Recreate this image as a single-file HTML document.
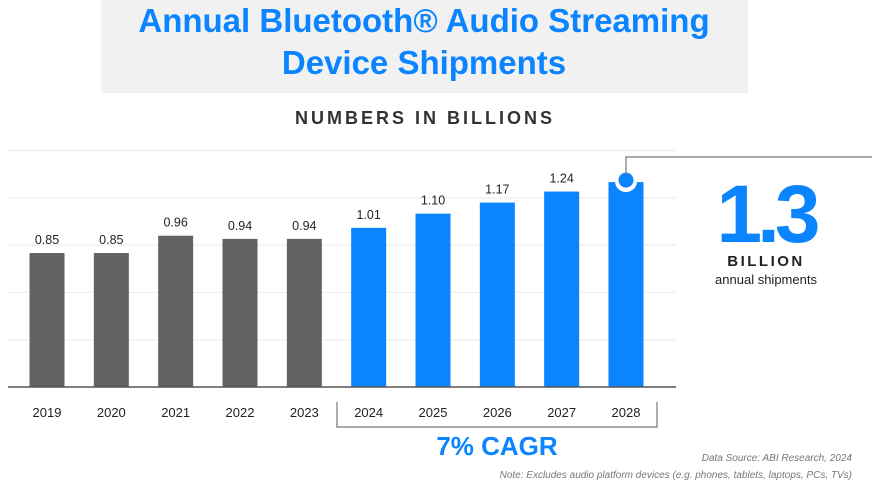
<!DOCTYPE html>
<html><head><meta charset="utf-8"><style>
body{margin:0;width:872px;height:497px;background:#fff;overflow:hidden;font-family:"Liberation Sans",sans-serif;}
</style></head><body>
<svg width="872" height="497" xmlns="http://www.w3.org/2000/svg">
<rect x="101" y="0" width="647" height="93" fill="#f1f1f1"/>
<text x="424" y="32" text-anchor="middle" font-size="33" font-weight="bold" fill="#0a84ff">Annual Bluetooth® Audio Streaming</text>
<text x="424" y="74" text-anchor="middle" font-size="33" font-weight="bold" fill="#0a84ff">Device Shipments</text>
<text x="425" y="124" text-anchor="middle" font-size="18" font-weight="bold" letter-spacing="3" fill="#333">NUMBERS IN BILLIONS</text>
<g id="grid"></g><g id="bars"></g><g id="labels"></g>
<line x1="8" y1="387" x2="676" y2="387" stroke="#555" stroke-width="1.5"/>
<path d="M337,402 V427 H657 V402" fill="none" stroke="#777" stroke-width="1.2"/>
<text x="497" y="455" text-anchor="middle" font-size="26" font-weight="bold" fill="#0a84ff">7% CAGR</text>
<text x="852" y="461" text-anchor="end" font-size="10" font-style="italic" fill="#777">Data Source: ABI Research, 2024</text>
<text x="852" y="478" text-anchor="end" font-size="10" font-style="italic" fill="#777">Note: Excludes audio platform devices (e.g. phones, tablets, laptops, PCs, TVs)</text>
<path d="M626,175 V157 H872" fill="none" stroke="#777" stroke-width="1.2"/>
<text x="766" y="242" text-anchor="middle" font-size="82" font-weight="bold" fill="#0a84ff" letter-spacing="-5">1.3</text>
<text x="766" y="266" text-anchor="middle" font-size="15" font-weight="bold" letter-spacing="2.5" fill="#222">BILLION</text>
<text x="766" y="284" text-anchor="middle" font-size="13" fill="#222">annual shipments</text>
</svg>
<script>
const years=["2019","2020","2021","2022","2023","2024","2025","2026","2027","2028"];
const values=[0.85,0.85,0.96,0.94,0.94,1.01,1.10,1.17,1.24,1.30];
const labels=["0.85","0.85","0.96","0.94","0.94","1.01","1.10","1.17","1.24",""];
const forecast=[false,false,false,false,false,true,true,true,true,true];
const ticks=[0,0.3,0.6,0.9,1.2,1.5];
const NS="http://www.w3.org/2000/svg";
const y=v=>387-v*157.6;
const x=i=>47+i*(626-47)/9;
function mk(t,a,p){const e=document.createElementNS(NS,t);for(const k in a)e.setAttribute(k,a[k]);document.getElementById(p).appendChild(e);return e;}
ticks.forEach(t=>{if(t===0)return;const l=mk("line",{x1:8,x2:676,y1:y(t),y2:y(t),stroke:"#eee","stroke-width":1.2},"grid");

});
values.forEach((v,i)=>{
 const c=forecast[i]?"#0a84ff":"#636366";
 const r=mk("rect",{x:x(i)-17.5,y:y(v),width:35,height:387-y(v),fill:c},"bars");
 
 
 if(labels[i]){const t=mk("text",{x:x(i),y:y(v)-9,"text-anchor":"middle","font-size":12.5,fill:"#222"},"labels");t.textContent=labels[i];
 
 }
 const yl=mk("text",{x:x(i),y:417,"text-anchor":"middle","font-size":13,fill:"#222"},"labels");yl.textContent=years[i];
 
 
 if(i===values.length-1){
  const d=mk("circle",{cx:x(i),cy:y(v)-1,r:11,fill:"#fff"},"labels");
  
  
  const d2=mk("circle",{cx:x(i),cy:y(v)-2,r:7.5,fill:"#0a84ff"},"labels");
  
  
 }
});
</script>
</body></html>
